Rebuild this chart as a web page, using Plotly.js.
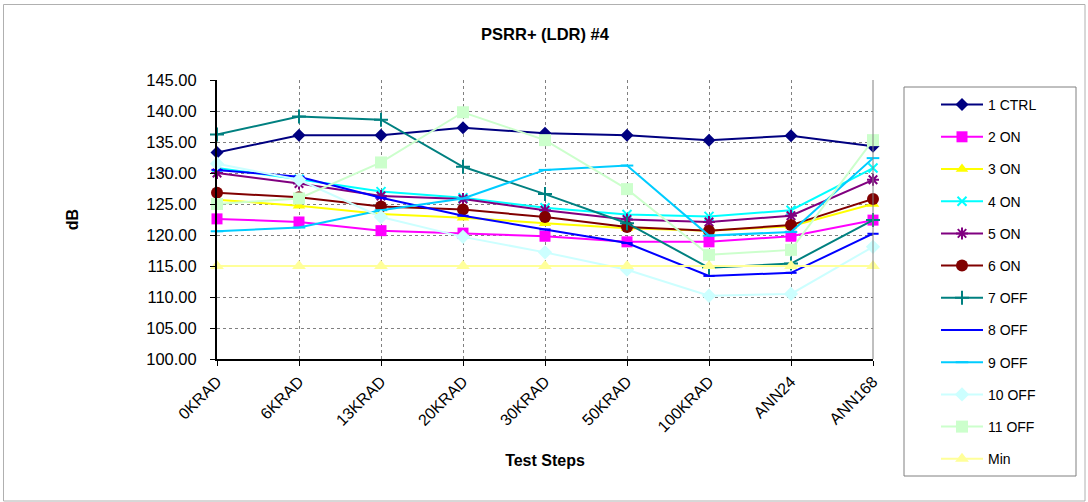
<!DOCTYPE html>
<html>
<head>
<meta charset="utf-8">
<script src="https://cdn.plot.ly/plotly-3.0.1.min.js"></script>
<style>
html,body{margin:0;padding:0;background:#fff;}
#chart{width:1088px;height:502px;}
</style>
</head>
<body>
<div id="chart"></div>
<script>
const categories = ['0KRAD','6KRAD','13KRAD','20KRAD','30KRAD','50KRAD','100KRAD','ANN24','ANN168'];
const ctrl1 = [133.3,136.1,136.1,137.3,136.4,136.1,135.3,136.0,134.3];
const on2   = [122.6,122.1,120.7,120.3,119.8,118.9,118.9,119.8,122.4];
const on3   = [125.7,124.7,123.4,122.8,121.9,121.1,120.7,121.4,125.0];
const on4   = [130.8,129.0,127.0,126.0,124.4,123.3,123.0,124.0,130.8];
const on5   = [130.0,128.3,126.3,125.8,124.0,122.5,122.1,123.1,128.9];
const on6   = [126.8,126.1,124.6,124.1,122.9,121.3,120.7,121.6,125.8];
const off7  = [136.2,139.1,138.6,131.0,126.6,121.9,114.7,115.4,122.4];
const off8  = [130.5,129.4,126.0,123.1,120.9,118.7,113.4,113.9,120.2];
const off9  = [120.6,121.2,124.0,125.9,130.5,131.2,119.9,120.5,132.4];
const off10 = [131.5,128.9,122.9,119.7,117.2,114.4,110.2,110.5,118.1];
const off11 = [125.0,125.9,131.7,139.8,135.3,127.4,116.8,117.6,135.3];
const minLimit = [115,115,115,115,115,115,115,115,115];

const seriesNames = ['1 CTRL','2 ON','3 ON','4 ON','5 ON','6 ON','7 OFF','8 OFF','9 OFF','10 OFF','11 OFF','Min'];
const seriesData = [ctrl1,on2,on3,on4,on5,on6,off7,off8,off9,off10,off11,minLimit];
const seriesColors = ['#000080','#FF00FF','#FFFF00','#00FFFF','#800080','#800000','#008080','#0000FF','#00CCFF','#CCFFFF','#CCFFCC','#FFFF99'];
const seriesSymbols = ['diamond','square','triangle-up','x-thin-open','asterisk-open','circle','cross-thin-open','line-ew-open','line-ew-open','diamond','square','triangle-up'];
const seriesSizes = [10,11,11,9,10,12,10,8,9,11,12,12];

const traces = seriesNames.map((name,i)=>({
  type:'scatter', mode:'lines+markers', name:name,
  x:categories, y:seriesData[i],
  legendgroup:'g'+i,
  cliponaxis:false,
  line:{color:seriesColors[i], width:2},
  marker:{symbol:seriesSymbols[i], size:seriesSizes[i], color:seriesColors[i],
          line:{color:seriesColors[i], width:(seriesSymbols[i].indexOf('open')>=0?2:0)}}
}));

const L=217, R=873, T=80, B=359;
const pw=R-L, ph=B-T;
const px=(x)=>(x-L)/pw, py=(y)=>(B-y)/ph;

const layout = {
  width:1088, height:502,
  margin:{l:L, r:1088-R, t:T, b:502-B, pad:0},
  paper_bgcolor:'#ffffff', plot_bgcolor:'#ffffff',
  font:{family:'Liberation Sans, Arial, sans-serif', color:'#000', size:14},
  title:{text:'<b>PSRR+ (LDR) #4</b>', x:0.5, xref:'paper', y:1-(34/502), yanchor:'middle', font:{size:16.5, color:'#000'}},
  xaxis:{type:'category', range:[0,8], showgrid:true, gridcolor:'#808080', griddash:'dot', gridwidth:1,
    showline:true, linecolor:'#000', linewidth:2, ticks:'outside', ticklen:5, tickcolor:'#000',
    tickangle:-45, tickfont:{size:16}, zeroline:false,
    title:{text:'<b>Test Steps</b>', font:{size:16}, standoff:21}},
  yaxis:{range:[100,145], dtick:5, tickformat:'.2f', showgrid:true, gridcolor:'#808080', griddash:'dot', gridwidth:1,
    showline:true, linecolor:'#000', linewidth:2, ticks:'outside', ticklen:5, tickcolor:'#000',
    tickfont:{size:16.5}, zeroline:false, ticklabelstandoff:10,
    title:{text:'<b>dB</b>', font:{size:16}, standoff:64}},
  showlegend:true,
  legend:{x:px(936), xanchor:'left', y:py(89), yanchor:'top', bgcolor:'rgba(0,0,0,0)', borderwidth:0,
    font:{size:14}, itemwidth:42, tracegroupgap:11, traceorder:'grouped', maxheight:480},
  shapes:[
    {type:'rect', xref:'paper', yref:'paper', x0:px(904), x1:px(1076), y0:py(87), y1:py(476), line:{color:'#808080', width:1}, fillcolor:'rgba(0,0,0,0)'},
    {type:'rect', xref:'paper', yref:'paper', x0:px(3.5), x1:px(1085), y0:py(4.5), y1:py(501), line:{color:'#b0b0b0', width:1}, fillcolor:'rgba(0,0,0,0)'},
    {type:'line', xref:'paper', yref:'paper', x0:1, x1:1, y0:0, y1:1, line:{color:'#808080', width:1}}
  ]
};

Plotly.newPlot('chart', traces, layout, {displayModeBar:false, staticPlot:true});
</script>
</body>
</html>
